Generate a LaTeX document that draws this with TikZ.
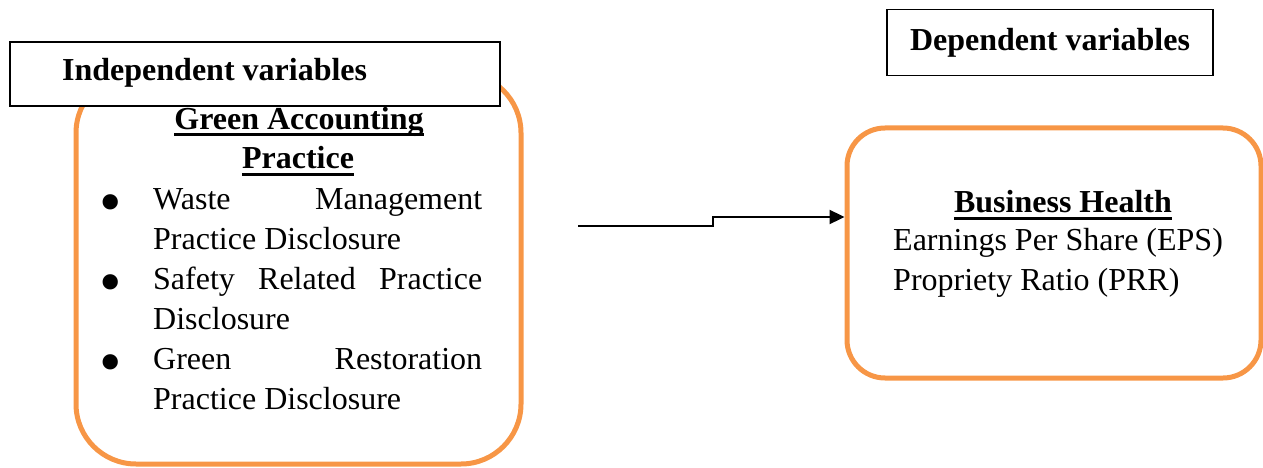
\documentclass[tikz,border=0pt]{standalone}
\usepackage{fontspec}
\setmainfont{Liberation Serif}
\usetikzlibrary{arrows.meta}
\definecolor{orng}{HTML}{F79646}
\begin{document}
\begin{tikzpicture}[x=1pt,y=-1pt,
  obox/.style={draw=orng, line width=5pt, rounded corners=#1, inner sep=0pt},
  bbox/.style={draw=black, line width=1.5pt, fill=white, inner sep=0pt},
  txt/.style={inner sep=0pt, font=\fontsize{32pt}{40pt}\selectfont},
  btxt/.style={inner sep=0pt, font=\fontsize{32pt}{40pt}\selectfont\bfseries},
  bul/.style={inner sep=0pt, font=\fontsize{64pt}{64pt}\selectfont},
  ul/.style={line width=3pt},
  arr/.style={line width=2.3pt, -{Triangle[length=15pt,width=14pt]}}]
\useasboundingbox (0,0) rectangle (1263,468);
% left orange box
\node[obox=60pt, minimum width=445pt, minimum height=391pt] (gap) at (298.5,268.5) {};
% independent variables box
\node[bbox, minimum width=490pt, minimum height=64pt] (indbox) at (255,74) {};
\node[btxt, anchor=base west] (indtxt) at (62,80.5) {Independent variables};
% dependent variables box
\node[bbox, minimum width=326pt, minimum height=66pt] (depbox) at (1050,42.5) {};
\node[btxt, anchor=base] (deptxt) at (1050,51) {Dependent variables};
% green accounting practice
\node[btxt, anchor=base] (ga1) at (299,129) {Green Accounting};
\draw[ul] ([yshift=-6pt]ga1.base west) -- ([yshift=-6pt]ga1.base east);
\node[btxt, anchor=base] (ga2) at (298,168) {Practice};
\draw[ul] ([yshift=-6pt]ga2.base west) -- ([yshift=-6pt]ga2.base east);
% bullets
\node[bul, anchor=center] (b1) at (111,209.5) {•};
\node[bul, anchor=center] (b2) at (111,289.5) {•};
\node[bul, anchor=center] (b3) at (111,369.5) {•};
\node[txt, anchor=base west] (l1) at (153,209.5) {\makebox[329pt][s]{Waste Management}};
\node[txt, anchor=base west] (l2) at (153,249.5) {Practice Disclosure};
\node[txt, anchor=base west] (l3) at (153,289.5) {\makebox[329pt][s]{Safety Related Practice}};
\node[txt, anchor=base west] (l4) at (153,329.5) {Disclosure};
\node[txt, anchor=base west] (l5) at (153,369.5) {\makebox[329pt][s]{Green Restoration}};
\node[txt, anchor=base west] (l6) at (153,409.5) {Practice Disclosure};
% right orange box
\node[obox=38pt, minimum width=414pt, minimum height=250pt] (rbox) at (1054,253) {};
\node[btxt, anchor=base] (bh) at (1063,212) {Business Health};
\draw[ul] ([yshift=-6pt]bh.base west) -- ([yshift=-6pt]bh.base east);
\node[txt, anchor=base west] (eps) at (893,250.5) {Earnings Per Share (EPS)};
\node[txt, anchor=base west] (prr) at (893,290.5) {Propriety Ratio (PRR)};
% arrow
\coordinate (astart) at (578,226);
\coordinate (astep) at (713,217);
\draw[arr] (astart) -| (astep) -- (astep -| rbox.west);
\end{tikzpicture}
\end{document}
